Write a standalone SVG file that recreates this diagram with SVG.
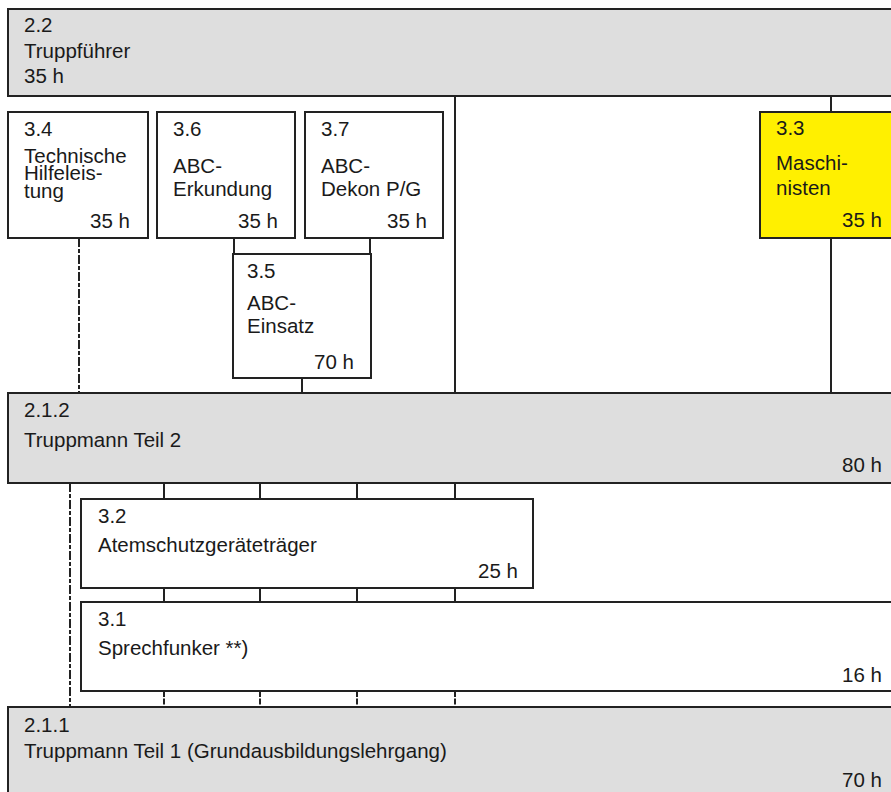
<svg xmlns="http://www.w3.org/2000/svg" width="891" height="792" viewBox="0 0 891 792">
<style>
  .box { stroke: #222; stroke-width: 2; }
  .grey { fill: #dedede; }
  .white { fill: #ffffff; }
  .yellow { fill: #fff000; }
  text { font-family: "Liberation Sans", Arial, sans-serif; font-size: 20.5px; fill: #1a1a1a; }
  .r { text-anchor: end; }
  .ln { stroke: #222; stroke-width: 2; fill: none; }
  .dash { stroke-dasharray: 9 2 4 2; }
  .dash2 { stroke-dasharray: 6 1.5; }
</style>
<rect width="891" height="792" fill="#ffffff"/>
<g id="connectors">
  <line class="ln" x1="455" y1="96" x2="455" y2="393"/>
  <line class="ln" x1="831" y1="96" x2="831" y2="112"/>
  <line class="ln" x1="831" y1="238" x2="831" y2="393"/>
  <line class="ln" x1="234" y1="238" x2="234" y2="254"/>
  <line class="ln" x1="370" y1="238" x2="370" y2="254"/>
  <line class="ln" x1="302" y1="378" x2="302" y2="393"/>
  <line class="ln dash" x1="79" y1="238" x2="79" y2="393"/>
  <line class="ln dash" x1="70" y1="483" x2="70" y2="707"/>
  <line class="ln" x1="164" y1="483" x2="164" y2="499"/>
  <line class="ln" x1="260" y1="483" x2="260" y2="499"/>
  <line class="ln" x1="357" y1="483" x2="357" y2="499"/>
  <line class="ln" x1="455" y1="483" x2="455" y2="499"/>
  <line class="ln" x1="164" y1="588" x2="164" y2="602"/>
  <line class="ln" x1="260" y1="588" x2="260" y2="602"/>
  <line class="ln" x1="357" y1="588" x2="357" y2="602"/>
  <line class="ln" x1="455" y1="588" x2="455" y2="602"/>
  <line class="ln dash2" x1="164" y1="691" x2="164" y2="707"/>
  <line class="ln dash2" x1="260" y1="691" x2="260" y2="707"/>
  <line class="ln dash2" x1="357" y1="691" x2="357" y2="707"/>
  <line class="ln dash2" x1="455" y1="691" x2="455" y2="707"/>
</g>
<g id="n22">
  <rect class="box grey" x="8" y="9" width="900" height="87"/>
  <text x="24" y="32">2.2</text>
  <text x="24" y="58">Truppführer</text>
  <text x="24" y="83">35 h</text>
</g>
<g id="n34">
  <rect class="box white" x="8" y="112" width="140" height="126"/>
  <text x="24" y="136">3.4</text>
  <text x="24" y="163">Technische</text>
  <text x="24" y="180">Hilfeleis-</text>
  <text x="24" y="198">tung</text>
  <text class="r" x="130" y="228">35 h</text>
</g>
<g id="n36">
  <rect class="box white" x="157" y="112" width="138" height="126"/>
  <text x="173" y="136">3.6</text>
  <text x="173" y="173">ABC-</text>
  <text x="173" y="196">Erkundung</text>
  <text class="r" x="278" y="228">35 h</text>
</g>
<g id="n37">
  <rect class="box white" x="305" y="112" width="138" height="126"/>
  <text x="321" y="136">3.7</text>
  <text x="321" y="173">ABC-</text>
  <text x="321" y="196">Dekon P/G</text>
  <text class="r" x="427" y="228">35 h</text>
</g>
<g id="n33">
  <rect class="box yellow" x="760" y="112" width="150" height="126"/>
  <text x="776" y="135">3.3</text>
  <text x="776" y="170">Maschi-</text>
  <text x="776" y="195">nisten</text>
  <text class="r" x="882" y="227">35 h</text>
</g>
<g id="n35">
  <rect class="box white" x="233" y="254" width="138" height="124"/>
  <text x="247" y="278">3.5</text>
  <text x="247" y="310">ABC-</text>
  <text x="247" y="333">Einsatz</text>
  <text class="r" x="354" y="369">70 h</text>
</g>
<g id="n212">
  <rect class="box grey" x="8" y="393" width="900" height="90"/>
  <text x="24" y="417">2.1.2</text>
  <text x="24" y="447">Truppmann Teil 2</text>
  <text class="r" x="882" y="472">80 h</text>
</g>
<g id="n32">
  <rect class="box white" x="81" y="499" width="452" height="89"/>
  <text x="98" y="523">3.2</text>
  <text x="98" y="552">Atemschutzgeräteträger</text>
  <text class="r" x="518" y="578">25 h</text>
</g>
<g id="n31">
  <rect class="box white" x="81" y="602" width="830" height="89"/>
  <text x="98" y="626">3.1</text>
  <text x="98" y="655">Sprechfunker **)</text>
  <text class="r" x="882" y="682">16 h</text>
</g>
<g id="n211">
  <rect class="box grey" x="8" y="707" width="900" height="100"/>
  <text x="24" y="732">2.1.1</text>
  <text x="24" y="758">Truppmann Teil 1 (Grundausbildungslehrgang)</text>
  <text class="r" x="882" y="787">70 h</text>
</g>
</svg>
